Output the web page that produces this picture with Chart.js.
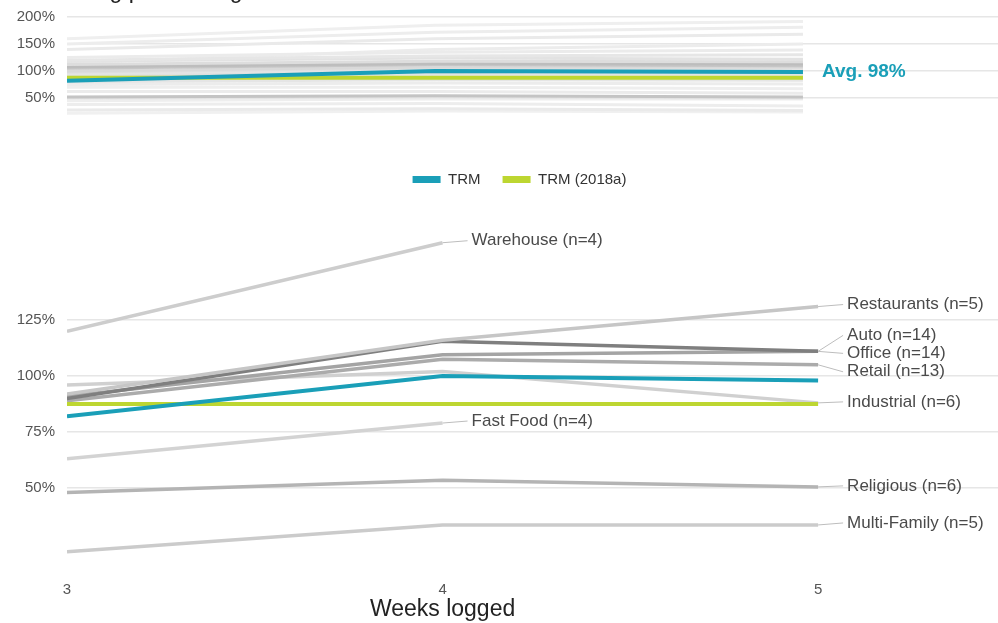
<!DOCTYPE html>
<html>
<head>
<meta charset="utf-8">
<script src="https://cdn.jsdelivr.net/npm/chart.js@4"></script>
<style>
  html, body { margin:0; padding:0; background:#fff; }
  body { width:998px; height:623px; position:relative; overflow:hidden; font-family:"Liberation Sans", Arial, sans-serif; }
  #title { position:absolute; left:35px; top:-21px; font-size:23px; line-height:23px; color:#222; white-space:nowrap; }
  #topWrap { position:absolute; left:0; top:0; width:998px; height:125px; }
  #bottomWrap { position:absolute; left:0; top:150px; width:998px; height:473px; }
</style>
</head>
<body>
<div id="topWrap"><canvas id="topChart"></canvas></div>
<div id="bottomWrap"><canvas id="bottomChart"></canvas></div>
<div id="title">Tracking period length</div>
<script>
// ---- data ----
const weeks = [3, 4, 5];
const xTicks = [3, 4, 5];
const topYTicks = [50, 100, 150, 200];
const bottomYTicks = [50, 75, 100, 125];

const trmValues = [82, 100, 98];
const trm2018aValues = [87.5, 87.5, 87.5];

// building type averages (null = no data for that week)
const warehouse   = [120, 159.5, null];
const restaurants = [92, 116, 131];
const auto        = [90, 115.5, 111];
const office      = [91, 109.5, 111];
const retail      = [89, 107.5, 105];
const industrial  = [96, 102, 88];
const fastFood    = [63, 79, null];
const religious   = [48, 53.5, 50.5];
const multiFamily = [21.5, 33.5, 33.5];

const categoryNames  = ['Warehouse', 'Restaurants', 'Auto', 'Office', 'Retail', 'Industrial', 'Fast Food', 'Religious', 'Multi-Family'];
const categoryCounts = [4, 5, 14, 14, 13, 6, 4, 6, 5];

// individual buildings (top panel)
const buildingWeek3 = [160, 150, 140, 125, 120, 118, 112, 108, 105, 100, 98, 95, 92, 90, 88, 85, 80, 75, 70, 62, 52, 50, 45, 38, 28, 22, 115, 96];
const buildingWeek4 = [185, 172, 160, 135, 128, 124, 118, 114, 112, 108, 106, 104, 102, 98, 95, 90, 84, 78, 70, 62, 54, 52, 48, 40, 30, 26, 140, 110];
const buildingWeek5 = [192, 181, 168, 139, 130, 122, 117, 113, 110, 108, 106, 104, 103, 100, 95, 92, 83, 76, 67, 59, 52, 50, 48, 35, 27, 24, 150, 111];

// ---- styles ----
const FONT = '"Liberation Sans", Arial, sans-serif';
const TEAL = '#1a9fb8';
const LIME = '#bdd631';
const GRID = '#e6e6e6';
const categoryGrays = ['#cdcdcd', '#c6c6c6', '#7f7f7f', '#a4a4a4', '#ababab', '#d0d0d0', '#d3d3d3', '#b4b4b4', '#cbcbcb'];
const buildingGrays = ['#efefef', '#ededed', '#eaeaea', '#ebebeb', '#e6e6e6', '#e2e2e2', '#dddddd', '#bdbdbd', '#c6c6c6', '#d9d9d9', '#dedede', '#e4e4e4', '#e0e0e0', '#d6d6d6', '#e3e3e3', '#e8e8e8', '#e5e5e5', '#ececec', '#eeeeee', '#ebebeb', '#c4c4c4', '#e5e5e5', '#eeeeee', '#ededed', '#eaeaea', '#f0f0f0', '#ececec', '#d2d2d2'];
// label nudges in px (dy) for the end-of-line labels
const labelDy = { 'Warehouse': -2, 'Restaurants': -2, 'Auto': -16, 'Office': 2, 'Retail': 7, 'Industrial': -1, 'Fast Food': -2, 'Religious': -1, 'Multi-Family': -2 };

const pts = arr => weeks.map((w, i) => ({ x: w, y: arr[i] }));
Chart.defaults.font.family = FONT;
Chart.defaults.animation = false;

// keep y axis from adding label overflow padding
const fixedYAxis = s => { s.width = 67; s.paddingTop = 0; s.paddingBottom = 0; };

// ---- top panel ----
const topSets = [
  { label: 'TRM', data: pts(trmValues), borderColor: TEAL, backgroundColor: TEAL, borderWidth: 4 },
  { label: 'TRM (2018a)', data: pts(trm2018aValues), borderColor: LIME, backgroundColor: LIME, borderWidth: 4 }
];
buildingWeek3.forEach((v, i) => {
  topSets.push({
    label: 'b' + i,
    data: pts([buildingWeek3[i], buildingWeek4[i], buildingWeek5[i]]),
    borderColor: buildingGrays[i], borderWidth: 3
  });
});

const avgLabel = {
  id: 'avgLabel',
  afterDatasetsDraw(chart) {
    const { ctx, scales: { x, y } } = chart;
    const last = trmValues[trmValues.length - 1];
    ctx.save();
    ctx.font = 'bold 19px ' + FONT;
    ctx.fillStyle = TEAL;
    ctx.textBaseline = 'middle';
    ctx.fillText('Avg. ' + last + '%', x.getPixelForValue(5) + 19, y.getPixelForValue(last));
    ctx.restore();
  }
};

new Chart(document.getElementById('topChart'), {
  type: 'line',
  data: { datasets: topSets },
  options: {
    responsive: true,
    maintainAspectRatio: false,
    layout: { padding: { top: 9, bottom: 5.4, left: 0, right: 0 } },
    elements: { point: { radius: 0 }, line: { tension: 0 } },
    plugins: { legend: { display: false }, tooltip: { enabled: false } },
    scales: {
      x: { type: 'linear', min: 3, max: 5.53, display: false },
      y: {
        min: 10, max: 215,
        afterBuildTicks: s => { s.ticks = topYTicks.map(v => ({ value: v })); },
        afterFit: fixedYAxis,
        ticks: { callback: v => v + '%', padding: 12, color: '#555', font: { size: 15 } },
        grid: { color: GRID, lineWidth: 1.5, drawTicks: false },
        border: { display: false }
      }
    }
  },
  plugins: [avgLabel]
});

// ---- bottom panel ----
const catArrays = [warehouse, restaurants, auto, office, retail, industrial, fastFood, religious, multiFamily];
const bottomSets = [
  { label: 'TRM', data: pts(trmValues), borderColor: TEAL, backgroundColor: TEAL, borderWidth: 4 },
  { label: 'TRM (2018a)', data: pts(trm2018aValues), borderColor: LIME, backgroundColor: LIME, borderWidth: 4 }
];
catArrays.forEach((arr, i) => {
  bottomSets.push({
    label: categoryNames[i],
    endLabel: categoryNames[i] + ' (n=' + categoryCounts[i] + ')',
    data: pts(arr),
    borderColor: categoryGrays[i], backgroundColor: categoryGrays[i], borderWidth: 3.5
  });
});

const endLabels = {
  id: 'endLabels',
  afterDatasetsDraw(chart) {
    const { ctx, scales: { x, y } } = chart;
    ctx.save();
    ctx.font = '17px ' + FONT;
    ctx.textBaseline = 'middle';
    chart.data.datasets.forEach(ds => {
      if (!ds.endLabel) return;
      let i = ds.data.length - 1;
      while (i >= 0 && ds.data[i].y == null) i--;
      const px = x.getPixelForValue(ds.data[i].x);
      const py = y.getPixelForValue(ds.data[i].y);
      const dy = labelDy[ds.label] || 0;
      ctx.strokeStyle = '#bdbdbd';
      ctx.lineWidth = 1;
      ctx.beginPath();
      ctx.moveTo(px, py);
      ctx.lineTo(px + 25, py + dy);
      ctx.stroke();
      ctx.fillStyle = '#4a4a4a';
      ctx.fillText(ds.endLabel, px + 29, py + dy);
    });
    ctx.restore();
  }
};

const axisTitle = {
  id: 'axisTitle',
  afterDraw(chart) {
    const { ctx, scales: { x } } = chart;
    const cx = (x.getPixelForValue(xTicks[0]) + x.getPixelForValue(xTicks[xTicks.length - 1])) / 2;
    ctx.save();
    ctx.font = '23px ' + FONT;
    ctx.fillStyle = '#222';
    ctx.textAlign = 'center';
    ctx.textBaseline = 'middle';
    ctx.fillText('Weeks logged', cx, chart.height - 13);
    ctx.restore();
  }
};

const legendFix = {
  id: 'legendFix',
  beforeInit(chart) {
    const fit = chart.legend.fit;
    chart.legend.fit = function () { fit.bind(chart.legend)(); this.height = 69.2; };
  },
  afterLayout(chart) {
    // nudge the legend row a bit left, like the original
    chart.legend.left -= 13;
    chart.legend.right -= 13;
  }
};

new Chart(document.getElementById('bottomChart'), {
  type: 'line',
  data: { datasets: bottomSets },
  options: {
    responsive: true,
    maintainAspectRatio: false,
    layout: { padding: 0 },
    elements: { point: { radius: 0 }, line: { tension: 0 } },
    plugins: {
      tooltip: { enabled: false },
      legend: {
        position: 'top',
        fullSize: false,
        labels: {
          boxWidth: 28, boxHeight: 7, padding: 22, color: '#333', font: { size: 15 },
          generateLabels: c => Chart.defaults.plugins.legend.labels.generateLabels(c)
            .filter(l => l.datasetIndex < 2).map(l => Object.assign(l, { lineWidth: 0 }))
        }
      }
    },
    scales: {
      x: {
        type: 'linear', min: 3, max: 5.479,
        afterBuildTicks: s => { s.ticks = xTicks.map(v => ({ value: v })); },
        afterFit: s => { s.height = 56.6; },
        ticks: { padding: 6, color: '#555', font: { size: 15 } },
        grid: { display: false },
        border: { display: false }
      },
      y: {
        min: 15, max: 170,
        afterBuildTicks: s => { s.ticks = bottomYTicks.map(v => ({ value: v })); },
        afterFit: fixedYAxis,
        ticks: { callback: v => v + '%', padding: 12, color: '#555', font: { size: 15 } },
        grid: { color: GRID, lineWidth: 1.5, drawTicks: false },
        border: { display: false }
      }
    }
  },
  plugins: [endLabels, axisTitle, legendFix]
});
</script>
</body>
</html>
